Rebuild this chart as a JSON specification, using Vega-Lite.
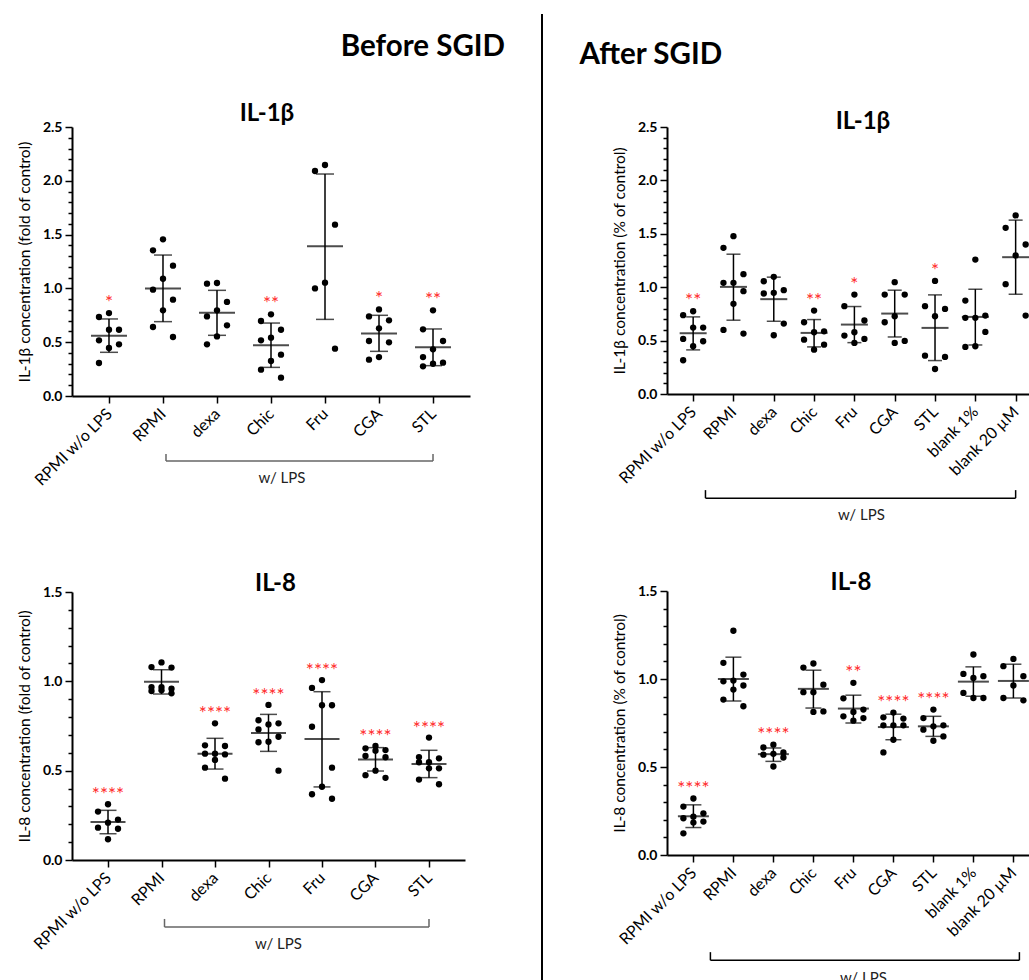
{
"$schema": "https://vega.github.io/schema/vega-lite/v6.json",
"padding": {"left": 17, "top": 13, "right": 0, "bottom": 0},
"background": "white",
"config": {
  "view": {"stroke": null},
  "font": "Lato",
  "title": {"font": "Lato", "fontSize": 24, "fontWeight": "bold", "color": "black", "anchor": "middle"},
  "axis": {"domainColor": "black", "domainWidth": 2, "tickColor": "black", "tickWidth": 1.5, "labelColor": "black", "titleColor": "black", "labelFont": "Lato", "titleFont": "Lato", "grid": false},
  "axisX": {"labelAngle": -45, "labelAlign": "right", "labelBaseline": "middle", "labelFontSize": 16, "tickSize": 7, "labelPadding": 8},
  "axisY": {"labelFontSize": 14, "labelFontWeight": "bold", "titleFontSize": 15.5, "titleFontWeight": "normal", "labelOverlap": false, "labelPadding": 3, "titlePadding": 10}
},
"datasets": {
  "p1": [
    {"cat":"RPMI w/o LPS","v":0.771},{"cat":"RPMI w/o LPS","v":0.734},{"cat":"RPMI w/o LPS","v":0.616},{"cat":"RPMI w/o LPS","v":0.616},{"cat":"RPMI w/o LPS","v":0.517},{"cat":"RPMI w/o LPS","v":0.480},{"cat":"RPMI w/o LPS","v":0.446},{"cat":"RPMI w/o LPS","v":0.307},
    {"cat":"RPMI","v":1.456},{"cat":"RPMI","v":1.354},{"cat":"RPMI","v":1.211},{"cat":"RPMI","v":1.090},{"cat":"RPMI","v":0.988},{"cat":"RPMI","v":0.895},{"cat":"RPMI","v":0.796},{"cat":"RPMI","v":0.641},{"cat":"RPMI","v":0.548},
    {"cat":"dexa","v":1.050},{"cat":"dexa","v":1.044},{"cat":"dexa","v":0.874},{"cat":"dexa","v":0.796},{"cat":"dexa","v":0.740},{"cat":"dexa","v":0.657},{"cat":"dexa","v":0.554},{"cat":"dexa","v":0.480},
    {"cat":"Chic","v":0.759},{"cat":"Chic","v":0.697},{"cat":"Chic","v":0.616},{"cat":"Chic","v":0.542},{"cat":"Chic","v":0.517},{"cat":"Chic","v":0.384},{"cat":"Chic","v":0.325},{"cat":"Chic","v":0.245},{"cat":"Chic","v":0.170},
    {"cat":"Fru","v":2.147},{"cat":"Fru","v":2.091},{"cat":"Fru","v":1.592},{"cat":"Fru","v":1.053},{"cat":"Fru","v":1.000},{"cat":"Fru","v":0.440},
    {"cat":"CGA","v":0.805},{"cat":"CGA","v":0.740},{"cat":"CGA","v":0.703},{"cat":"CGA","v":0.629},{"cat":"CGA","v":0.511},{"cat":"CGA","v":0.499},{"cat":"CGA","v":0.362},{"cat":"CGA","v":0.338},
    {"cat":"STL","v":0.796},{"cat":"STL","v":0.620},{"cat":"STL","v":0.511},{"cat":"STL","v":0.434},{"cat":"STL","v":0.362},{"cat":"STL","v":0.310},{"cat":"STL","v":0.300},{"cat":"STL","v":0.276}
  ],
  "s1": [
    {"cat":"RPMI w/o LPS","mean":0.561,"lo":0.406,"hi":0.716,"sig":"*"},
    {"cat":"RPMI","mean":1.0,"lo":0.691,"hi":1.310,"sig":""},
    {"cat":"dexa","mean":0.774,"lo":0.564,"hi":0.982,"sig":""},
    {"cat":"Chic","mean":0.471,"lo":0.266,"hi":0.678,"sig":"**"},
    {"cat":"Fru","mean":1.391,"lo":0.712,"hi":2.063,"sig":""},
    {"cat":"CGA","mean":0.582,"lo":0.415,"hi":0.750,"sig":"*"},
    {"cat":"STL","mean":0.452,"lo":0.282,"hi":0.623,"sig":"**"}
  ],
  "p2": [
    {"cat":"RPMI w/o LPS","v":0.775},{"cat":"RPMI w/o LPS","v":0.738},{"cat":"RPMI w/o LPS","v":0.622},{"cat":"RPMI w/o LPS","v":0.622},{"cat":"RPMI w/o LPS","v":0.516},{"cat":"RPMI w/o LPS","v":0.494},{"cat":"RPMI w/o LPS","v":0.447},{"cat":"RPMI w/o LPS","v":0.316},
    {"cat":"RPMI","v":1.478},{"cat":"RPMI","v":1.369},{"cat":"RPMI","v":1.122},{"cat":"RPMI","v":1.041},{"cat":"RPMI","v":1.041},{"cat":"RPMI","v":0.963},{"cat":"RPMI","v":0.844},{"cat":"RPMI","v":0.600},{"cat":"RPMI","v":0.566},
    {"cat":"dexa","v":1.097},{"cat":"dexa","v":1.056},{"cat":"dexa","v":0.972},{"cat":"dexa","v":0.947},{"cat":"dexa","v":0.941},{"cat":"dexa","v":0.659},{"cat":"dexa","v":0.550},
    {"cat":"Chic","v":0.781},{"cat":"Chic","v":0.672},{"cat":"Chic","v":0.587},{"cat":"Chic","v":0.578},{"cat":"Chic","v":0.509},{"cat":"Chic","v":0.462},{"cat":"Chic","v":0.415},
    {"cat":"Fru","v":0.931},{"cat":"Fru","v":0.822},{"cat":"Fru","v":0.688},{"cat":"Fru","v":0.578},{"cat":"Fru","v":0.547},{"cat":"Fru","v":0.516},{"cat":"Fru","v":0.478},
    {"cat":"CGA","v":1.047},{"cat":"CGA","v":0.931},{"cat":"CGA","v":0.931},{"cat":"CGA","v":0.728},{"cat":"CGA","v":0.672},{"cat":"CGA","v":0.497},{"cat":"CGA","v":0.478},
    {"cat":"STL","v":1.059},{"cat":"STL","v":0.822},{"cat":"STL","v":0.797},{"cat":"STL","v":0.728},{"cat":"STL","v":0.359},{"cat":"STL","v":0.347},{"cat":"STL","v":0.234},
    {"cat":"blank 1%","v":1.259},{"cat":"blank 1%","v":0.875},{"cat":"blank 1%","v":0.734},{"cat":"blank 1%","v":0.713},{"cat":"blank 1%","v":0.713},{"cat":"blank 1%","v":0.581},{"cat":"blank 1%","v":0.447},{"cat":"blank 1%","v":0.441},
    {"cat":"blank 20 µM","v":1.672},{"cat":"blank 20 µM","v":1.556},{"cat":"blank 20 µM","v":1.400},{"cat":"blank 20 µM","v":1.297},{"cat":"blank 20 µM","v":1.028},{"cat":"blank 20 µM","v":0.734}
  ],
  "s2": [
    {"cat":"RPMI w/o LPS","mean":0.569,"lo":0.413,"hi":0.722,"sig":"**"},
    {"cat":"RPMI","mean":1.003,"lo":0.691,"hi":1.309,"sig":""},
    {"cat":"dexa","mean":0.888,"lo":0.681,"hi":1.094,"sig":""},
    {"cat":"Chic","mean":0.572,"lo":0.441,"hi":0.697,"sig":"**"},
    {"cat":"Fru","mean":0.650,"lo":0.481,"hi":0.819,"sig":"*"},
    {"cat":"CGA","mean":0.753,"lo":0.534,"hi":0.972,"sig":""},
    {"cat":"STL","mean":0.619,"lo":0.313,"hi":0.928,"sig":"*"},
    {"cat":"blank 1%","mean":0.722,"lo":0.459,"hi":0.981,"sig":""},
    {"cat":"blank 20 µM","mean":1.281,"lo":0.934,"hi":1.628,"sig":""}
  ],
  "p3": [
    {"cat":"RPMI w/o LPS","v":0.312},{"cat":"RPMI w/o LPS","v":0.271},{"cat":"RPMI w/o LPS","v":0.226},{"cat":"RPMI w/o LPS","v":0.209},{"cat":"RPMI w/o LPS","v":0.181},{"cat":"RPMI w/o LPS","v":0.175},{"cat":"RPMI w/o LPS","v":0.116},
    {"cat":"RPMI","v":1.106},{"cat":"RPMI","v":1.080},{"cat":"RPMI","v":1.077},{"cat":"RPMI","v":0.968},{"cat":"RPMI","v":0.968},{"cat":"RPMI","v":0.959},{"cat":"RPMI","v":0.950},{"cat":"RPMI","v":0.946},{"cat":"RPMI","v":0.933},
    {"cat":"dexa","v":0.765},{"cat":"dexa","v":0.642},{"cat":"dexa","v":0.638},{"cat":"dexa","v":0.595},{"cat":"dexa","v":0.595},{"cat":"dexa","v":0.591},{"cat":"dexa","v":0.560},{"cat":"dexa","v":0.517},{"cat":"dexa","v":0.455},
    {"cat":"Chic","v":0.868},{"cat":"Chic","v":0.782},{"cat":"Chic","v":0.765},{"cat":"Chic","v":0.759},{"cat":"Chic","v":0.731},{"cat":"Chic","v":0.690},{"cat":"Chic","v":0.662},{"cat":"Chic","v":0.659},{"cat":"Chic","v":0.500},
    {"cat":"Fru","v":1.007},{"cat":"Fru","v":0.963},{"cat":"Fru","v":0.866},{"cat":"Fru","v":0.866},{"cat":"Fru","v":0.746},{"cat":"Fru","v":0.517},{"cat":"Fru","v":0.410},{"cat":"Fru","v":0.368},{"cat":"Fru","v":0.343},
    {"cat":"CGA","v":0.638},{"cat":"CGA","v":0.625},{"cat":"CGA","v":0.615},{"cat":"CGA","v":0.612},{"cat":"CGA","v":0.582},{"cat":"CGA","v":0.575},{"cat":"CGA","v":0.500},{"cat":"CGA","v":0.475},{"cat":"CGA","v":0.460},
    {"cat":"STL","v":0.685},{"cat":"STL","v":0.576},{"cat":"STL","v":0.569},{"cat":"STL","v":0.547},{"cat":"STL","v":0.547},{"cat":"STL","v":0.513},{"cat":"STL","v":0.513},{"cat":"STL","v":0.450},{"cat":"STL","v":0.424}
  ],
  "s3": [
    {"cat":"RPMI w/o LPS","mean":0.213,"lo":0.147,"hi":0.278,"sig":"****"},
    {"cat":"RPMI","mean":0.998,"lo":0.929,"hi":1.065,"sig":""},
    {"cat":"dexa","mean":0.595,"lo":0.509,"hi":0.681,"sig":"****"},
    {"cat":"Chic","mean":0.711,"lo":0.608,"hi":0.815,"sig":"****"},
    {"cat":"Fru","mean":0.677,"lo":0.409,"hi":0.942,"sig":"****"},
    {"cat":"CGA","mean":0.562,"lo":0.498,"hi":0.629,"sig":"****"},
    {"cat":"STL","mean":0.537,"lo":0.461,"hi":0.614,"sig":"****"}
  ],
  "p4": [
    {"cat":"RPMI w/o LPS","v":0.321},{"cat":"RPMI w/o LPS","v":0.275},{"cat":"RPMI w/o LPS","v":0.237},{"cat":"RPMI w/o LPS","v":0.218},{"cat":"RPMI w/o LPS","v":0.209},{"cat":"RPMI w/o LPS","v":0.190},{"cat":"RPMI w/o LPS","v":0.184},{"cat":"RPMI w/o LPS","v":0.123},
    {"cat":"RPMI","v":1.274},{"cat":"RPMI","v":1.092},{"cat":"RPMI","v":1.025},{"cat":"RPMI","v":0.991},{"cat":"RPMI","v":0.987},{"cat":"RPMI","v":0.963},{"cat":"RPMI","v":0.940},{"cat":"RPMI","v":0.883},{"cat":"RPMI","v":0.845},
    {"cat":"dexa","v":0.627},{"cat":"dexa","v":0.611},{"cat":"dexa","v":0.583},{"cat":"dexa","v":0.575},{"cat":"dexa","v":0.570},{"cat":"dexa","v":0.554},{"cat":"dexa","v":0.503},
    {"cat":"Chic","v":1.088},{"cat":"Chic","v":1.065},{"cat":"Chic","v":0.968},{"cat":"Chic","v":0.925},{"cat":"Chic","v":0.925},{"cat":"Chic","v":0.816},{"cat":"Chic","v":0.813},
    {"cat":"Fru","v":0.978},{"cat":"Fru","v":0.890},{"cat":"Fru","v":0.826},{"cat":"Fru","v":0.813},{"cat":"Fru","v":0.788},{"cat":"Fru","v":0.778},{"cat":"Fru","v":0.763},
    {"cat":"CGA","v":0.809},{"cat":"CGA","v":0.782},{"cat":"CGA","v":0.775},{"cat":"CGA","v":0.737},{"cat":"CGA","v":0.737},{"cat":"CGA","v":0.737},{"cat":"CGA","v":0.655},{"cat":"CGA","v":0.583},
    {"cat":"STL","v":0.826},{"cat":"STL","v":0.778},{"cat":"STL","v":0.737},{"cat":"STL","v":0.731},{"cat":"STL","v":0.712},{"cat":"STL","v":0.674},{"cat":"STL","v":0.649},
    {"cat":"blank 1%","v":1.139},{"cat":"blank 1%","v":1.029},{"cat":"blank 1%","v":1.016},{"cat":"blank 1%","v":1.006},{"cat":"blank 1%","v":0.921},{"cat":"blank 1%","v":0.892},{"cat":"blank 1%","v":0.892},
    {"cat":"blank 20 µM","v":1.114},{"cat":"blank 20 µM","v":1.073},{"cat":"blank 20 µM","v":1.016},{"cat":"blank 20 µM","v":0.963},{"cat":"blank 20 µM","v":0.892},{"cat":"blank 20 µM","v":0.879}
  ],
  "s4": [
    {"cat":"RPMI w/o LPS","mean":0.220,"lo":0.156,"hi":0.285,"sig":"****"},
    {"cat":"RPMI","mean":1.0,"lo":0.875,"hi":1.124,"sig":""},
    {"cat":"dexa","mean":0.573,"lo":0.532,"hi":0.608,"sig":"****"},
    {"cat":"Chic","mean":0.944,"lo":0.835,"hi":1.050,"sig":""},
    {"cat":"Fru","mean":0.832,"lo":0.750,"hi":0.908,"sig":"**"},
    {"cat":"CGA","mean":0.727,"lo":0.655,"hi":0.800,"sig":"****"},
    {"cat":"STL","mean":0.731,"lo":0.674,"hi":0.788,"sig":"****"},
    {"cat":"blank 1%","mean":0.985,"lo":0.902,"hi":1.069,"sig":""},
    {"cat":"blank 20 µM","mean":0.989,"lo":0.892,"hi":1.084,"sig":""}
  ]
},
"spacing": 36,
"hconcat": [
  {
    "title": {"text": ["", "Before SGID"], "fontSize": 29.5, "lineHeight": 17, "anchor": "end", "dx": 35, "offset": 40},
    "spacing": 83,
    "vconcat": [
      {
        "width": 398, "height": 269,
        "title": {"text": "IL-1β", "dx": -4, "offset": -6},
        "resolve": {"axis": {"y": "independent"}},
        "layer": [
          {"layer": [
            {"data": {"name": "p1"},
             "transform": [{"window": [{"op": "row_number", "as": "rn"}], "groupby": ["cat"], "sort": [{"field": "v", "order": "descending"}]},
                           {"calculate": "datum.rn % 3 == 1 ? 0 : (datum.rn % 3 == 2 ? -1 : 1)", "as": "lane"}],
             "mark": {"type": "circle", "size": 40, "opacity": 1, "color": "black"},
             "encoding": {
               "x": {"field": "cat", "type": "nominal", "title": null, "scale": {"type": "point", "domain": ["RPMI w/o LPS","RPMI","dexa","Chic","Fru","CGA","STL"], "padding": 0.685}},
               "xOffset": {"field": "lane", "type": "quantitative", "scale": {"domain": [-1, 1], "range": [-10, 10]}},
               "y": {"field": "v", "type": "quantitative", "title": "IL-1β concentration (fold of control)", "scale": {"domain": [0, 2.5], "nice": false},
                     "axis": {"values": [0, 0.5, 1, 1.5, 2, 2.5], "format": ".1f", "labelOverlap": false, "tickSize": 7, "orient": "left"}}
             }},
            {"data": {"name": "s1"}, "mark": {"type": "rule", "color": "black", "strokeWidth": 1.5},
             "encoding": {"x": {"field": "cat", "type": "nominal", "title": null}, "y": {"field": "lo", "type": "quantitative", "title": "IL-1β concentration (fold of control)"}, "y2": {"field": "hi"}}},
            {"data": {"name": "s1"}, "mark": {"type": "tick", "orient": "horizontal", "color": "black", "size": 18, "thickness": 1.5},
             "encoding": {"x": {"field": "cat", "type": "nominal", "title": null}, "y": {"field": "lo", "type": "quantitative", "title": "IL-1β concentration (fold of control)"}}},
            {"data": {"name": "s1"}, "mark": {"type": "tick", "orient": "horizontal", "color": "black", "size": 18, "thickness": 1.5},
             "encoding": {"x": {"field": "cat", "type": "nominal", "title": null}, "y": {"field": "hi", "type": "quantitative", "title": "IL-1β concentration (fold of control)"}}},
            {"data": {"name": "p1"},
             "transform": [{"aggregate": [{"op": "max", "field": "v", "as": "top"}], "groupby": ["cat"]},
                           {"lookup": "cat", "from": {"data": {"name": "s1"}, "key": "cat", "fields": ["sig"]}},
                           {"filter": "datum.sig"}],
             "mark": {"type": "text", "color": "#ff2a2a", "fontSize": 19, "baseline": "alphabetic", "dy": -4},
             "encoding": {"x": {"field": "cat", "type": "nominal", "title": null}, "y": {"field": "top", "type": "quantitative", "title": "IL-1β concentration (fold of control)"}, "text": {"field": "sig"}}},
            {"data": {"values": [{}]}, "mark": {"type": "rule", "color": "#666", "strokeWidth": 1.5, "xOffset": 3},
             "encoding": {"x": {"datum": "RPMI", "type": "nominal", "title": null}, "x2": {"datum": "STL"}, "y": {"datum": -0.604, "type": "quantitative", "title": "IL-1β concentration (fold of control)"}}},
            {"data": {"values": [{}]}, "mark": {"type": "rule", "color": "#666", "strokeWidth": 1.5, "xOffset": 3},
             "encoding": {"x": {"datum": "RPMI", "type": "nominal", "title": null}, "y": {"datum": -0.604, "type": "quantitative", "title": "IL-1β concentration (fold of control)"}, "y2": {"datum": -0.539}}},
            {"data": {"values": [{}]}, "mark": {"type": "rule", "color": "#666", "strokeWidth": 1.5},
             "encoding": {"x": {"datum": "STL", "type": "nominal", "title": null}, "y": {"datum": -0.604, "type": "quantitative", "title": "IL-1β concentration (fold of control)"}, "y2": {"datum": -0.539}}},
            {"data": {"values": [{}]}, "mark": {"type": "text", "text": "w/ LPS", "fontSize": 15, "color": "#222", "dx": 11, "baseline": "middle"},
             "encoding": {"x": {"datum": "Chic", "type": "nominal", "title": null}, "y": {"datum": -0.762, "type": "quantitative", "title": "IL-1β concentration (fold of control)"}}}
          ]},
          {"data": {"name": "s1"}, "mark": {"type": "tick", "orient": "horizontal", "color": "black", "size": 36, "thickness": 2},
           "encoding": {"x": {"field": "cat", "type": "nominal", "title": null},
                        "y": {"field": "mean", "type": "quantitative", "title": null,
                              "axis": {"values": [0.1,0.2,0.3,0.4,0.6,0.7,0.8,0.9,1.1,1.2,1.3,1.4,1.6,1.7,1.8,1.9,2.1,2.2,2.3,2.4], "labels": false, "domain": false, "tickSize": 4, "orient": "left", "title": null}}}}
        ]
      },
      {
        "width": 393, "height": 268,
        "title": {"text": "IL-8", "dx": 7, "offset": -11},
        "resolve": {"axis": {"y": "independent"}},
        "layer": [
          {"layer": [
            {"data": {"name": "p3"},
             "transform": [{"window": [{"op": "row_number", "as": "rn"}], "groupby": ["cat"], "sort": [{"field": "v", "order": "descending"}]},
                           {"calculate": "datum.rn % 3 == 1 ? 0 : (datum.rn % 3 == 2 ? -1 : 1)", "as": "lane"}],
             "mark": {"type": "circle", "size": 40, "opacity": 1, "color": "black"},
             "encoding": {
               "x": {"field": "cat", "type": "nominal", "title": null, "scale": {"type": "point", "domain": ["RPMI w/o LPS","RPMI","dexa","Chic","Fru","CGA","STL"], "padding": 0.673}},
               "xOffset": {"field": "lane", "type": "quantitative", "scale": {"domain": [-1, 1], "range": [-11, 11]}},
               "y": {"field": "v", "type": "quantitative", "title": "IL-8 concentration (fold of control)", "scale": {"domain": [0, 1.5], "nice": false},
                     "axis": {"values": [0, 0.5, 1, 1.5], "format": ".1f", "labelOverlap": false, "tickSize": 7, "orient": "left"}}
             }},
            {"data": {"name": "s3"}, "mark": {"type": "rule", "color": "black", "strokeWidth": 1.5},
             "encoding": {"x": {"field": "cat", "type": "nominal", "title": null}, "y": {"field": "lo", "type": "quantitative", "title": "IL-8 concentration (fold of control)"}, "y2": {"field": "hi"}}},
            {"data": {"name": "s3"}, "mark": {"type": "tick", "orient": "horizontal", "color": "black", "size": 17, "thickness": 1.5},
             "encoding": {"x": {"field": "cat", "type": "nominal", "title": null}, "y": {"field": "lo", "type": "quantitative", "title": "IL-8 concentration (fold of control)"}}},
            {"data": {"name": "s3"}, "mark": {"type": "tick", "orient": "horizontal", "color": "black", "size": 17, "thickness": 1.5},
             "encoding": {"x": {"field": "cat", "type": "nominal", "title": null}, "y": {"field": "hi", "type": "quantitative", "title": "IL-8 concentration (fold of control)"}}},
            {"data": {"name": "p3"},
             "transform": [{"aggregate": [{"op": "max", "field": "v", "as": "top"}], "groupby": ["cat"]},
                           {"lookup": "cat", "from": {"data": {"name": "s3"}, "key": "cat", "fields": ["sig"]}},
                           {"filter": "datum.sig"}],
             "mark": {"type": "text", "color": "#ff2a2a", "fontSize": 19, "baseline": "alphabetic", "dy": -3},
             "encoding": {"x": {"field": "cat", "type": "nominal", "title": null}, "y": {"field": "top", "type": "quantitative", "title": "IL-8 concentration (fold of control)"}, "text": {"field": "sig"}}},
            {"data": {"values": [{}]}, "mark": {"type": "rule", "color": "#666", "strokeWidth": 1.5, "xOffset": 3},
             "encoding": {"x": {"datum": "RPMI", "type": "nominal", "title": null}, "x2": {"datum": "STL"}, "y": {"datum": -0.375, "type": "quantitative", "title": "IL-8 concentration (fold of control)"}}},
            {"data": {"values": [{}]}, "mark": {"type": "rule", "color": "#666", "strokeWidth": 1.5, "xOffset": 3},
             "encoding": {"x": {"datum": "RPMI", "type": "nominal", "title": null}, "y": {"datum": -0.375, "type": "quantitative", "title": "IL-8 concentration (fold of control)"}, "y2": {"datum": -0.33}}},
            {"data": {"values": [{}]}, "mark": {"type": "rule", "color": "#666", "strokeWidth": 1.5},
             "encoding": {"x": {"datum": "STL", "type": "nominal", "title": null}, "y": {"datum": -0.375, "type": "quantitative", "title": "IL-8 concentration (fold of control)"}, "y2": {"datum": -0.33}}},
            {"data": {"values": [{}]}, "mark": {"type": "text", "text": "w/ LPS", "fontSize": 15, "color": "#222", "dx": 10, "baseline": "middle"},
             "encoding": {"x": {"datum": "Chic", "type": "nominal", "title": null}, "y": {"datum": -0.47, "type": "quantitative", "title": "IL-8 concentration (fold of control)"}}}
          ]},
          {"data": {"name": "s3"}, "mark": {"type": "tick", "orient": "horizontal", "color": "black", "size": 35, "thickness": 2},
           "encoding": {"x": {"field": "cat", "type": "nominal", "title": null},
                        "y": {"field": "mean", "type": "quantitative", "title": null,
                              "axis": {"values": [0.1,0.2,0.3,0.4,0.6,0.7,0.8,0.9,1.1,1.2,1.3,1.4], "labels": false, "domain": false, "tickSize": 4, "orient": "left", "title": null}}}}
        ]
      }
    ]
  },
  {
    "width": 2, "height": 100,
    "data": {"values": [{}]},
    "mark": {"type": "rule", "color": "black", "strokeWidth": 2},
    "encoding": {"x": {"datum": 0, "type": "quantitative", "axis": null, "scale": {"domain": [-1, 1]}},
                 "y": {"datum": -7.6, "type": "quantitative", "axis": null, "scale": {"domain": [0, 1], "nice": false, "zero": false}},
                 "y2": {"datum": 2.13}}
  },
  {
    "title": {"text": ["", "After SGID"], "fontSize": 29.5, "lineHeight": 17, "anchor": "start", "dx": -33, "offset": 40},
    "spacing": 47,
    "vconcat": [
      {
        "width": 364, "height": 267,
        "title": {"text": "IL-1β", "dx": 14, "offset": -14},
        "resolve": {"axis": {"y": "independent"}},
        "layer": [
          {"layer": [
            {"data": {"name": "p2"},
             "transform": [{"window": [{"op": "row_number", "as": "rn"}], "groupby": ["cat"], "sort": [{"field": "v", "order": "descending"}]},
                           {"calculate": "datum.rn % 3 == 1 ? 0 : (datum.rn % 3 == 2 ? -1 : 1)", "as": "lane"}],
             "mark": {"type": "circle", "size": 40, "opacity": 1, "color": "black"},
             "encoding": {
               "x": {"field": "cat", "type": "nominal", "title": null, "scale": {"type": "point", "domain": ["RPMI w/o LPS","RPMI","dexa","Chic","Fru","CGA","STL","blank 1%","blank 20 µM"], "padding": 0.515, "align": 0.63}},
               "xOffset": {"field": "lane", "type": "quantitative", "scale": {"domain": [-1, 1], "range": [-8, 8]}},
               "y": {"field": "v", "type": "quantitative", "title": "IL-1β concentration (% of control)", "scale": {"domain": [0, 2.5], "nice": false},
                     "axis": {"values": [0, 0.5, 1, 1.5, 2, 2.5], "format": ".1f", "labelOverlap": false, "tickSize": 7, "orient": "left"}}
             }},
            {"data": {"name": "s2"}, "mark": {"type": "rule", "color": "black", "strokeWidth": 1.5},
             "encoding": {"x": {"field": "cat", "type": "nominal", "title": null}, "y": {"field": "lo", "type": "quantitative", "title": "IL-1β concentration (% of control)"}, "y2": {"field": "hi"}}},
            {"data": {"name": "s2"}, "mark": {"type": "tick", "orient": "horizontal", "color": "black", "size": 14, "thickness": 1.5},
             "encoding": {"x": {"field": "cat", "type": "nominal", "title": null}, "y": {"field": "lo", "type": "quantitative", "title": "IL-1β concentration (% of control)"}}},
            {"data": {"name": "s2"}, "mark": {"type": "tick", "orient": "horizontal", "color": "black", "size": 14, "thickness": 1.5},
             "encoding": {"x": {"field": "cat", "type": "nominal", "title": null}, "y": {"field": "hi", "type": "quantitative", "title": "IL-1β concentration (% of control)"}}},
            {"data": {"name": "p2"},
             "transform": [{"aggregate": [{"op": "max", "field": "v", "as": "top"}], "groupby": ["cat"]},
                           {"lookup": "cat", "from": {"data": {"name": "s2"}, "key": "cat", "fields": ["sig"]}},
                           {"filter": "datum.sig"}],
             "mark": {"type": "text", "color": "#ff2a2a", "fontSize": 19, "baseline": "alphabetic", "dy": -4},
             "encoding": {"x": {"field": "cat", "type": "nominal", "title": null}, "y": {"field": "top", "type": "quantitative", "title": "IL-1β concentration (% of control)"}, "text": {"field": "sig"}}},
            {"data": {"values": [{}]}, "mark": {"type": "rule", "color": "black", "strokeWidth": 1.5, "xOffset": -28},
             "encoding": {"x": {"datum": "RPMI", "type": "nominal", "title": null}, "x2": {"datum": "blank 20 µM"}, "y": {"datum": -0.975, "type": "quantitative", "title": "IL-1β concentration (% of control)"}}},
            {"data": {"values": [{}]}, "mark": {"type": "rule", "color": "black", "strokeWidth": 1.5, "xOffset": -28},
             "encoding": {"x": {"datum": "RPMI", "type": "nominal", "title": null}, "y": {"datum": -0.975, "type": "quantitative", "title": "IL-1β concentration (% of control)"}, "y2": {"datum": -0.90}}},
            {"data": {"values": [{}]}, "mark": {"type": "rule", "color": "black", "strokeWidth": 1.5},
             "encoding": {"x": {"datum": "blank 20 µM", "type": "nominal", "title": null}, "y": {"datum": -0.975, "type": "quantitative", "title": "IL-1β concentration (% of control)"}, "y2": {"datum": -0.90}}},
            {"data": {"values": [{}]}, "mark": {"type": "text", "text": "w/ LPS", "fontSize": 15, "color": "#222", "dx": 7, "baseline": "middle"},
             "encoding": {"x": {"datum": "Fru", "type": "nominal", "title": null}, "y": {"datum": -1.134, "type": "quantitative", "title": "IL-1β concentration (% of control)"}}}
          ]},
          {"data": {"name": "s2"}, "mark": {"type": "tick", "orient": "horizontal", "color": "black", "size": 27, "thickness": 2},
           "encoding": {"x": {"field": "cat", "type": "nominal", "title": null},
                        "y": {"field": "mean", "type": "quantitative", "title": null,
                              "axis": {"values": [0.1,0.2,0.3,0.4,0.6,0.7,0.8,0.9,1.1,1.2,1.3,1.4,1.6,1.7,1.8,1.9,2.1,2.2,2.3,2.4], "labels": false, "domain": false, "tickSize": 4, "orient": "left", "title": null}}}}
        ]
      },
      {
        "width": 364, "height": 264,
        "title": {"text": "IL-8", "dx": 2, "offset": -11},
        "resolve": {"axis": {"y": "independent"}},
        "layer": [
          {"layer": [
            {"data": {"name": "p4"},
             "transform": [{"window": [{"op": "row_number", "as": "rn"}], "groupby": ["cat"], "sort": [{"field": "v", "order": "descending"}]},
                           {"calculate": "datum.rn % 3 == 1 ? 0 : (datum.rn % 3 == 2 ? -1 : 1)", "as": "lane"}],
             "mark": {"type": "circle", "size": 40, "opacity": 1, "color": "black"},
             "encoding": {
               "x": {"field": "cat", "type": "nominal", "title": null, "scale": {"type": "point", "domain": ["RPMI w/o LPS","RPMI","dexa","Chic","Fru","CGA","STL","blank 1%","blank 20 µM"], "padding": 0.55, "align": 0.6}},
               "xOffset": {"field": "lane", "type": "quantitative", "scale": {"domain": [-1, 1], "range": [-9, 9]}},
               "y": {"field": "v", "type": "quantitative", "title": "IL-8 concentration (% of control)", "scale": {"domain": [0, 1.5], "nice": false},
                     "axis": {"values": [0, 0.5, 1, 1.5], "format": ".1f", "labelOverlap": false, "tickSize": 7, "orient": "left"}}
             }},
            {"data": {"name": "s4"}, "mark": {"type": "rule", "color": "black", "strokeWidth": 1.5},
             "encoding": {"x": {"field": "cat", "type": "nominal", "title": null}, "y": {"field": "lo", "type": "quantitative", "title": "IL-8 concentration (% of control)"}, "y2": {"field": "hi"}}},
            {"data": {"name": "s4"}, "mark": {"type": "tick", "orient": "horizontal", "color": "black", "size": 16, "thickness": 1.5},
             "encoding": {"x": {"field": "cat", "type": "nominal", "title": null}, "y": {"field": "lo", "type": "quantitative", "title": "IL-8 concentration (% of control)"}}},
            {"data": {"name": "s4"}, "mark": {"type": "tick", "orient": "horizontal", "color": "black", "size": 16, "thickness": 1.5},
             "encoding": {"x": {"field": "cat", "type": "nominal", "title": null}, "y": {"field": "hi", "type": "quantitative", "title": "IL-8 concentration (% of control)"}}},
            {"data": {"name": "p4"},
             "transform": [{"aggregate": [{"op": "max", "field": "v", "as": "top"}], "groupby": ["cat"]},
                           {"lookup": "cat", "from": {"data": {"name": "s4"}, "key": "cat", "fields": ["sig"]}},
                           {"filter": "datum.sig"}],
             "mark": {"type": "text", "color": "#ff2a2a", "fontSize": 19, "baseline": "alphabetic", "dy": -4},
             "encoding": {"x": {"field": "cat", "type": "nominal", "title": null}, "y": {"field": "top", "type": "quantitative", "title": "IL-8 concentration (% of control)"}, "text": {"field": "sig"}}},
            {"data": {"values": [{}]}, "mark": {"type": "rule", "color": "black", "strokeWidth": 1.5, "xOffset": -23, "x2Offset": 6},
             "encoding": {"x": {"datum": "RPMI", "type": "nominal", "title": null}, "x2": {"datum": "blank 20 µM"}, "y": {"datum": -0.598, "type": "quantitative", "title": "IL-8 concentration (% of control)"}}},
            {"data": {"values": [{}]}, "mark": {"type": "rule", "color": "black", "strokeWidth": 1.5, "xOffset": -23},
             "encoding": {"x": {"datum": "RPMI", "type": "nominal", "title": null}, "y": {"datum": -0.598, "type": "quantitative", "title": "IL-8 concentration (% of control)"}, "y2": {"datum": -0.552}}},
            {"data": {"values": [{}]}, "mark": {"type": "rule", "color": "black", "strokeWidth": 1.5, "xOffset": 6},
             "encoding": {"x": {"datum": "blank 20 µM", "type": "nominal", "title": null}, "y": {"datum": -0.598, "type": "quantitative", "title": "IL-8 concentration (% of control)"}, "y2": {"datum": -0.552}}},
            {"data": {"values": [{}]}, "mark": {"type": "text", "text": "w/ LPS", "fontSize": 15, "color": "#222", "dx": 10, "baseline": "middle"},
             "encoding": {"x": {"datum": "Fru", "type": "nominal", "title": null}, "y": {"datum": -0.70, "type": "quantitative", "title": "IL-8 concentration (% of control)"}}}
          ]},
          {"data": {"name": "s4"}, "mark": {"type": "tick", "orient": "horizontal", "color": "black", "size": 31, "thickness": 2},
           "encoding": {"x": {"field": "cat", "type": "nominal", "title": null},
                        "y": {"field": "mean", "type": "quantitative", "title": null,
                              "axis": {"values": [0.1,0.2,0.3,0.4,0.6,0.7,0.8,0.9,1.1,1.2,1.3,1.4], "labels": false, "domain": false, "tickSize": 4, "orient": "left", "title": null}}}}
        ]
      }
    ]
  }
]
}
